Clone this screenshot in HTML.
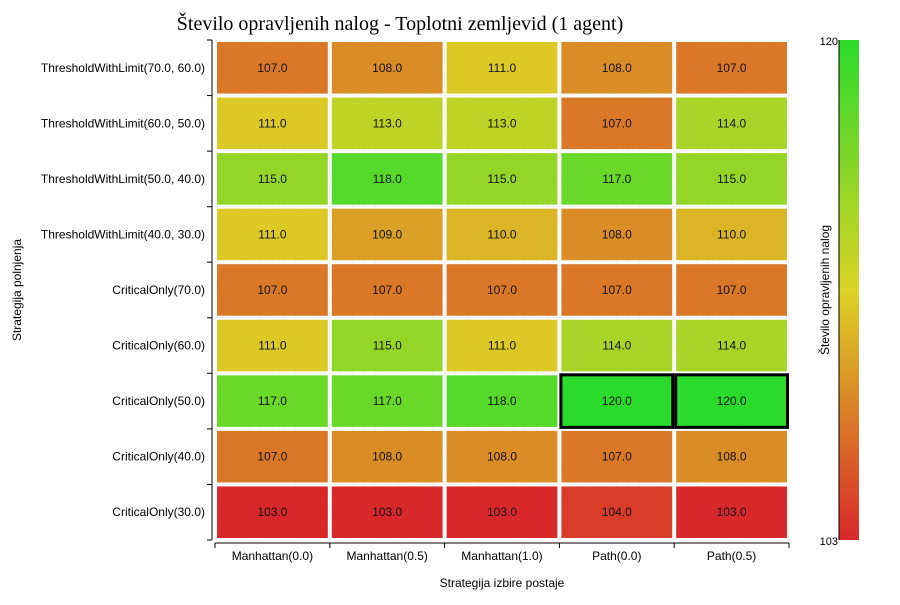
<!DOCTYPE html>
<html><head><meta charset="utf-8"><style>
body{margin:0;background:#fff;font-family:"Liberation Sans",sans-serif}
</style></head><body>
<svg id="c" width="900" height="600" xmlns="http://www.w3.org/2000/svg">
<defs>
<linearGradient id="cb" x1="0" y1="1" x2="0" y2="0">
<stop offset="0" stop-color="#d8282a"/><stop offset="0.235" stop-color="#da7827"/><stop offset="0.5" stop-color="#dcd325"/><stop offset="1" stop-color="#2bdb2b"/>
</linearGradient>
<pattern id="grid" width="11.48" height="11.12" patternUnits="userSpaceOnUse" x="215" y="40">
<path d="M11.48 0V11.12M0 11.12H11.48" stroke="#ddd" stroke-width="0.6" fill="none"/>
</pattern>
</defs>
<text x="400" y="30" font-family="Liberation Serif, serif" font-size="20" text-anchor="middle">Število opravljenih nalog - Toplotni zemljevid (1 agent)</text>
<rect x="215" y="40" width="574" height="500" fill="url(#grid)"/>
<g id="cells"></g>
<g id="axes"></g>
<text x="502" y="587" font-size="12" text-anchor="middle">Strategija izbire postaje</text>
<text transform="translate(21,290) rotate(-90)" font-size="12" text-anchor="middle">Strategija polnjenja</text>
<rect x="839" y="40" width="20" height="500" fill="url(#cb)"/>
<line x1="839" y1="40" x2="839" y2="540" stroke="#000"/>
<text x="838" y="45" font-size="11" text-anchor="end">120</text>
<text x="838" y="545" font-size="11" text-anchor="end">103</text>
<text transform="translate(829,290) rotate(-90)" font-size="12" text-anchor="middle">Število opravljenih nalog</text>
</svg>
<script>
const cols=["Manhattan(0.0)","Manhattan(0.5)","Manhattan(1.0)","Path(0.0)","Path(0.5)"];
const rows=["ThresholdWithLimit(70.0, 60.0)","ThresholdWithLimit(60.0, 50.0)","ThresholdWithLimit(50.0, 40.0)","ThresholdWithLimit(40.0, 30.0)","CriticalOnly(70.0)","CriticalOnly(60.0)","CriticalOnly(50.0)","CriticalOnly(40.0)","CriticalOnly(30.0)"];
const values=[
[107,108,111,108,107],
[111,113,113,107,114],
[115,118,115,117,115],
[111,109,110,108,110],
[107,107,107,107,107],
[111,115,111,114,114],
[117,117,118,120,120],
[107,108,108,107,108],
[103,103,103,104,103]];
const vmin=103,vmax=120;
const L=215,R=789,T=40,B=540;
const cw=(R-L)/cols.length,rh=(B-T)/rows.length;
const xs=i=>L+i*cw, ys=j=>T+j*rh;
const stops=[[0,[216,40,42]],[0.235,[218,120,39]],[0.5,[220,211,37]],[1,[43,219,43]]];
function color(v){let t=(v-vmin)/(vmax-vmin);t=Math.max(0,Math.min(1,t));
for(let k=1;k<stops.length;k++){if(t<=stops[k][0]){const a=stops[k-1],b=stops[k],u=(t-a[0])/(b[0]-a[0]);
return 'rgb('+a[1].map((c,i)=>Math.round(c+(b[1][i]-c)*u)).join(',')+')';}}return 'rgb(43,219,43)';}
const NS="http://www.w3.org/2000/svg";
const cells=document.getElementById('cells'),axes=document.getElementById('axes');
function mk(tag,at,parent){const e=document.createElementNS(NS,tag);for(const k in at)e.setAttribute(k,at[k]);parent.appendChild(e);return e;}
let mx=-Infinity;values.forEach(r=>r.forEach(v=>{if(v>mx)mx=v;}));
values.forEach((r,j)=>r.forEach((v,i)=>{
const isMax=v===mx;
const rc=mk('rect',{x:xs(i)+2,y:ys(j)+2,width:cw-4,height:rh-4,fill:color(v)},cells);
if(isMax){rc.setAttribute('stroke','#000');rc.setAttribute('stroke-width','3');rc.setAttribute('x',xs(i)+1.5);rc.setAttribute('y',ys(j)+1.5);rc.setAttribute('width',cw-3);rc.setAttribute('height',rh-3);}


const t=mk('text',{x:xs(i)+cw/2,y:ys(j)+rh/2+4,'font-size':12,'text-anchor':'middle',fill:'#111'},cells);
t.textContent=v.toFixed(1);


}));
const xa=mk('line',{x1:L,y1:B+3,x2:R,y2:B+3,stroke:'#000'},axes);


const ya=mk('line',{x1:L-3,y1:T,x2:L-3,y2:B,stroke:'#000'},axes);


for(let i=0;i<=cols.length;i++){const tk=mk('line',{x1:xs(i),y1:B+3,x2:xs(i),y2:B+8,stroke:'#000'},axes);

}
for(let j=0;j<=rows.length;j++){const tk=mk('line',{x1:L-8,y1:ys(j),x2:L-3,y2:ys(j),stroke:'#000'},axes);

}
cols.forEach((c,i)=>{const t=mk('text',{x:xs(i)+cw/2,y:B+20,'font-size':12,'text-anchor':'middle'},axes);t.textContent=c;

});
rows.forEach((r,j)=>{const t=mk('text',{x:L-10,y:ys(j)+rh/2+4,'font-size':12,'text-anchor':'end'},axes);t.textContent=r;

});
</script>
</body></html>
